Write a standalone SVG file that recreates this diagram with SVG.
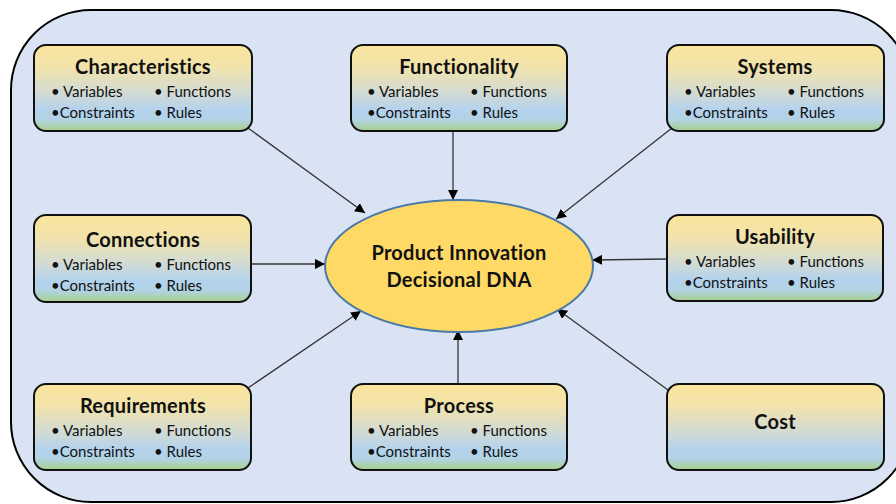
<svg xmlns="http://www.w3.org/2000/svg" width="896" height="504" viewBox="0 0 896 504">
<defs>
<linearGradient id="g" x1="0" y1="0" x2="0" y2="1">
<stop offset="0" stop-color="#fbe59d"/>
<stop offset="0.25" stop-color="#f2e3ab"/>
<stop offset="0.55" stop-color="#d3dbd3"/>
<stop offset="0.76" stop-color="#b3d2ee"/>
<stop offset="0.87" stop-color="#b2d3e4"/>
<stop offset="1" stop-color="#a6d08a"/>
</linearGradient>
<marker id="ah" viewBox="0 0 10 10" refX="10" refY="5" markerWidth="10" markerHeight="10" markerUnits="userSpaceOnUse" orient="auto">
<path d="M0,0 L10,5 L0,10 z" fill="#000"/>
</marker>
</defs>
<style>
.box{fill:url(#g);stroke:#111;stroke-width:2}
.t{font-family:Lato,"Liberation Sans",sans-serif;font-weight:bold;font-size:20px;letter-spacing:0.25px;fill:#111;text-anchor:middle}
.b{font-family:Lato,"Liberation Sans",sans-serif;font-size:15px;fill:#111}
.c{stroke:#333;stroke-width:1.3;fill:none;marker-end:url(#ah)}
</style>
<rect x="11" y="10" width="900" height="492" rx="80" ry="80" fill="#dae3f3" stroke="#000" stroke-width="2"/>

<g id="connectors">
<line class="c" x1="248" y1="128" x2="365" y2="213"/>
<line class="c" x1="453" y1="131" x2="453" y2="200"/>
<line class="c" x1="672" y1="128" x2="556" y2="219"/>
<line class="c" x1="251" y1="264" x2="325" y2="264"/>
<line class="c" x1="667" y1="259" x2="592" y2="260"/>
<line class="c" x1="248" y1="388" x2="361" y2="311"/>
<line class="c" x1="458" y1="385" x2="458" y2="330"/>
<line class="c" x1="668" y1="390" x2="557" y2="309"/>
</g>

<g id="center">
<ellipse cx="459" cy="266" rx="134" ry="66" fill="#ffd966" stroke="#4a7aa8" stroke-width="2"/>
<text class="t" x="459" y="260">Product Innovation</text>
<text class="t" x="459" y="287">Decisional DNA</text>
</g>

<g id="characteristics">
<rect class="box" x="34" y="45" width="218" height="86" rx="12"/>
<text class="t" x="143" y="74">Characteristics</text>
<text class="b" x="51" y="97">• Variables</text><text class="b" x="154" y="97">• Functions</text>
<text class="b" x="51" y="118">•Constraints</text><text class="b" x="154" y="118">• Rules</text>
</g>
<g id="functionality">
<rect class="box" x="351" y="45" width="216" height="86" rx="12"/>
<text class="t" x="459" y="74">Functionality</text>
<text class="b" x="367" y="97">• Variables</text><text class="b" x="470" y="97">• Functions</text>
<text class="b" x="367" y="118">•Constraints</text><text class="b" x="470" y="118">• Rules</text>
</g>
<g id="systems">
<rect class="box" x="667" y="45" width="217" height="86" rx="12"/>
<text class="t" x="775" y="74">Systems</text>
<text class="b" x="684" y="97">• Variables</text><text class="b" x="787" y="97">• Functions</text>
<text class="b" x="684" y="118">•Constraints</text><text class="b" x="787" y="118">• Rules</text>
</g>
<g id="connections">
<rect class="box" x="34" y="215" width="217" height="87" rx="12"/>
<text class="t" x="143" y="247">Connections</text>
<text class="b" x="51" y="270">• Variables</text><text class="b" x="154" y="270">• Functions</text>
<text class="b" x="51" y="291">•Constraints</text><text class="b" x="154" y="291">• Rules</text>
</g>
<g id="usability">
<rect class="box" x="667" y="215" width="216" height="86" rx="12"/>
<text class="t" x="775" y="244">Usability</text>
<text class="b" x="684" y="267">• Variables</text><text class="b" x="787" y="267">• Functions</text>
<text class="b" x="684" y="288">•Constraints</text><text class="b" x="787" y="288">• Rules</text>
</g>
<g id="requirements">
<rect class="box" x="34" y="384" width="217" height="86" rx="12"/>
<text class="t" x="143" y="413">Requirements</text>
<text class="b" x="51" y="436">• Variables</text><text class="b" x="154" y="436">• Functions</text>
<text class="b" x="51" y="457">•Constraints</text><text class="b" x="154" y="457">• Rules</text>
</g>
<g id="process">
<rect class="box" x="351" y="384" width="216" height="86" rx="12"/>
<text class="t" x="459" y="413">Process</text>
<text class="b" x="367" y="436">• Variables</text><text class="b" x="470" y="436">• Functions</text>
<text class="b" x="367" y="457">•Constraints</text><text class="b" x="470" y="457">• Rules</text>
</g>
<g id="cost">
<rect class="box" x="667" y="384" width="217" height="86" rx="12"/>
<text class="t" x="775" y="429">Cost</text>
</g>
</svg>
